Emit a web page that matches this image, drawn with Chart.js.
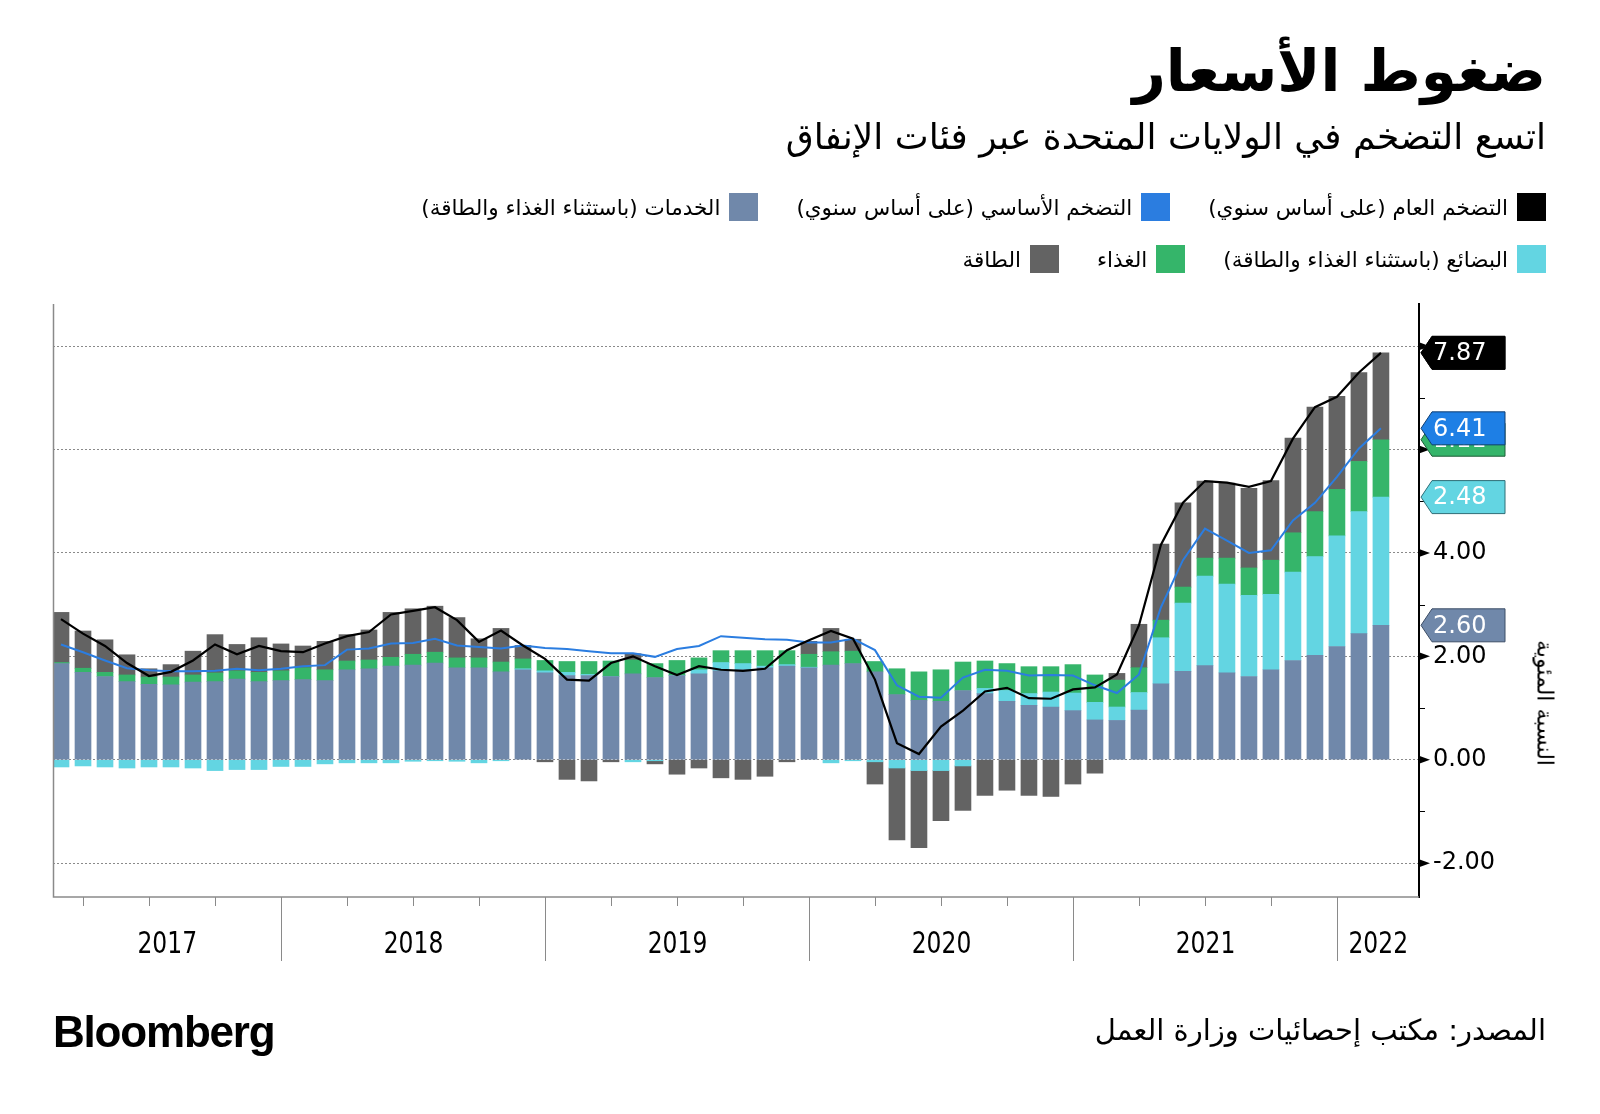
<!DOCTYPE html>
<html lang="ar">
<head>
<meta charset="utf-8">
<script src="https://cdn.jsdelivr.net/npm/chart.js@4.4.1/dist/chart.umd.min.js"></script>
<style>
  html, body { margin: 0; padding: 0; background: #fff; }
  body { width: 1600px; height: 1114px; position: relative; overflow: hidden; font-family: "DejaVu Sans", sans-serif; color: #000; }
  #chart { position: absolute; left: 0; top: 0; }
  .rt { position: absolute; right: 54px; direction: rtl; white-space: nowrap; line-height: 1; }
  .title { top: 42px; font-size: 58px; font-weight: bold; }
  .subtitle { top: 119px; font-size: 36px; }
  .legend { position: absolute; right: 54px; display: flex; direction: rtl; gap: 38px; }
  .item { display: flex; align-items: center; gap: 9px; font-size: 21.5px; white-space: nowrap; }
  .sw { display: inline-block; width: 29px; height: 28px; }
  .ytitle { position: absolute; left: 1545px; top: 703px; transform: translate(-50%, -50%) rotate(90deg); font-size: 22px; direction: rtl; white-space: nowrap; }
  .logo { position: absolute; left: 53px; top: 1010px; font-family: "Liberation Sans", Arial, sans-serif; font-weight: bold; font-size: 44px; letter-spacing: -1.2px; line-height: 1; }
  .source { top: 1016px; font-size: 29px; }
</style>
</head>
<body>
<canvas id="chart" width="1600" height="1114"></canvas>

<div class="rt title">ضغوط الأسعار</div>
<div class="rt subtitle">اتسع التضخم في الولايات المتحدة عبر فئات الإنفاق</div>

<div class="legend" style="top:193px">
  <div class="item"><span class="sw" style="background:#000000"></span><span>التضخم العام (على أساس سنوي)</span></div>
  <div class="item"><span class="sw" style="background:#2b7de0"></span><span>التضخم الأساسي (على أساس سنوي)</span></div>
  <div class="item"><span class="sw" style="background:#7088aa"></span><span>الخدمات (باستثناء الغذاء والطاقة)</span></div>
</div>
<div class="legend" style="top:245px">
  <div class="item"><span class="sw" style="background:#63d5e2"></span><span>البضائع (باستثناء الغذاء والطاقة)</span></div>
  <div class="item"><span class="sw" style="background:#35b56a"></span><span>الغذاء</span></div>
  <div class="item"><span class="sw" style="background:#636363"></span><span>الطاقة</span></div>
</div>

<div class="ytitle">النسبة المئوية</div>

<div class="logo">Bloomberg</div>
<div class="rt source">المصدر: مكتب إحصائيات وزارة العمل</div>

<script>
// months, plotted at month end (Feb 2017 .. Feb 2022)
var months = [
  '2017-02','2017-03','2017-04','2017-05','2017-06','2017-07','2017-08','2017-09','2017-10','2017-11','2017-12',
  '2018-01','2018-02','2018-03','2018-04','2018-05','2018-06','2018-07','2018-08','2018-09','2018-10','2018-11','2018-12',
  '2019-01','2019-02','2019-03','2019-04','2019-05','2019-06','2019-07','2019-08','2019-09','2019-10','2019-11','2019-12',
  '2020-01','2020-02','2020-03','2020-04','2020-05','2020-06','2020-07','2020-08','2020-09','2020-10','2020-11','2020-12',
  '2021-01','2021-02','2021-03','2021-04','2021-05','2021-06','2021-07','2021-08','2021-09','2021-10','2021-11','2021-12',
  '2022-01','2022-02'
];
var years = ['2017', '2018', '2019', '2020', '2021', '2022'];

// contributions to headline CPI, percentage points
var services = [1.86,1.69,1.61,1.51,1.46,1.45,1.50,1.51,1.56,1.51,1.53,
  1.55,1.53,1.74,1.76,1.81,1.83,1.87,1.78,1.78,1.70,1.74,1.68,
  1.63,1.63,1.61,1.66,1.59,1.63,1.66,1.72,1.74,1.78,1.81,1.78,
  1.83,1.86,1.70,1.26,1.15,1.13,1.34,1.28,1.13,1.05,1.02,0.95,
  0.77,0.76,0.96,1.47,1.71,1.82,1.68,1.61,1.74,1.92,2.02,2.19,
  2.44,2.60];
var goods = [-0.14,-0.12,-0.14,-0.16,-0.14,-0.14,-0.16,-0.21,-0.19,-0.19,-0.13,
  -0.13,-0.08,-0.06,-0.06,-0.06,-0.03,-0.02,-0.03,-0.06,-0.02,0.02,0.04,
  0.06,0.02,0.00,-0.04,-0.02,0.00,0.08,0.16,0.12,0.03,0.03,0.01,
  -0.06,-0.02,-0.04,-0.16,-0.21,-0.21,-0.12,0.10,0.21,0.23,0.29,0.34,
  0.34,0.26,0.34,0.89,1.32,1.73,1.72,1.57,1.46,1.71,1.91,2.14,
  2.36,2.48];
var food = [0.02,0.08,0.08,0.13,0.14,0.15,0.14,0.17,0.16,0.18,0.19,
  0.23,0.21,0.17,0.17,0.17,0.21,0.21,0.19,0.19,0.19,0.19,0.20,
  0.21,0.25,0.30,0.27,0.27,0.29,0.23,0.23,0.25,0.30,0.27,0.25,
  0.26,0.24,0.20,0.50,0.55,0.61,0.55,0.53,0.52,0.52,0.49,0.55,
  0.53,0.52,0.48,0.34,0.31,0.35,0.50,0.53,0.66,0.76,0.87,0.90,
  0.97,1.11];
var energy = [0.97,0.72,0.63,0.39,0.16,0.24,0.46,0.74,0.51,0.67,0.52,
  0.42,0.55,0.51,0.58,0.87,0.88,0.89,0.78,0.37,0.65,0.26,-0.04,
  -0.38,-0.41,-0.04,0.12,-0.06,-0.28,-0.16,-0.35,-0.38,-0.32,-0.04,0.25,
  0.45,0.23,-0.43,-1.39,-1.49,-0.97,-0.86,-0.69,-0.59,-0.69,-0.71,-0.47,
  -0.26,0.13,0.84,1.47,1.63,1.49,1.45,1.54,1.54,1.83,2.02,1.80,
  1.72,1.68];
// year-over-year inflation, %
var headline = [2.72,2.44,2.20,1.87,1.62,1.70,1.92,2.23,2.04,2.20,2.10,
  2.08,2.25,2.39,2.47,2.81,2.88,2.95,2.70,2.28,2.50,2.21,1.95,
  1.55,1.53,1.87,2.00,1.81,1.64,1.81,1.74,1.72,1.76,2.12,2.31,
  2.49,2.34,1.55,0.32,0.11,0.64,0.95,1.32,1.39,1.19,1.18,1.36,
  1.40,1.65,2.60,4.16,4.97,5.39,5.36,5.28,5.39,6.21,6.82,7.02,
  7.49,7.87];
var core = [2.23,2.08,1.92,1.77,1.73,1.71,1.71,1.72,1.76,1.73,1.76,
  1.81,1.83,2.13,2.15,2.25,2.26,2.34,2.21,2.18,2.15,2.21,2.16,
  2.14,2.10,2.06,2.06,1.99,2.14,2.20,2.39,2.36,2.33,2.32,2.27,
  2.27,2.34,2.12,1.44,1.22,1.20,1.59,1.74,1.72,1.63,1.64,1.63,
  1.44,1.29,1.65,2.95,3.86,4.47,4.24,4.00,4.05,4.63,4.97,5.47,
  6.02,6.41];

function xy(arr) {
  return arr.map(function (v, i) { return { x: i, y: v }; });
}

// label boxes at the right edge: [fill, border]
var boxStyle = {
  0: ['#7088aa', '#3d4e66'],
  1: ['#63d5e2', '#2f6e77'],
  2: ['#35b56a', '#1e5e38'],
  3: ['#636363', '#333333'],
  4: ['#000000', '#000000'],
  5: ['#1e7fe5', '#0f3f73']
};

var decor = {
  id: 'decor',
  afterDraw: function (chart) {
    var ctx = chart.ctx, a = chart.chartArea, x = chart.scales.x, y = chart.scales.y;
    ctx.save();

    // left and bottom frame
    ctx.strokeStyle = '#8a8a8a';
    ctx.lineWidth = 1.5;
    ctx.beginPath();
    ctx.moveTo(a.left + 0.5, a.top);
    ctx.lineTo(a.left + 0.5, a.bottom);
    ctx.lineTo(a.right, a.bottom);
    ctx.stroke();

    // quarter ticks, year separators
    var bounds = [a.left];
    ctx.lineWidth = 1;
    months.forEach(function (m, i) {
      var mo = +m.slice(5);
      if (mo % 3 !== 0) return;
      var px = Math.round(x.getPixelForValue(i)) + 0.5;
      if (px > a.right) return;
      ctx.beginPath();
      ctx.moveTo(px, a.bottom);
      ctx.lineTo(px, a.bottom + (mo === 12 ? 64 : 9));
      ctx.stroke();
      if (mo === 12) bounds.push(px);
    });
    bounds.push(a.right);

    // year labels, narrow
    ctx.fillStyle = '#000';
    ctx.font = '31px "DejaVu Sans Condensed", "DejaVu Sans", sans-serif';
    ctx.textAlign = 'center';
    ctx.textBaseline = 'middle';
    years.forEach(function (yr, k) {
      ctx.save();
      ctx.translate((bounds[k] + bounds[k + 1]) / 2, a.bottom + 48);
      ctx.scale(0.84, 1);
      ctx.fillText(yr, 0, 0);
      ctx.restore();
    });

    // right axis markers
    ctx.fillStyle = '#000';
    ctx.strokeStyle = '#000';
    y.ticks.forEach(function (t) {
      var py = y.getPixelForValue(t.value);
      if (t.value % 2 === 0) {
        ctx.beginPath();
        ctx.moveTo(a.right, py - 4);
        ctx.lineTo(a.right + 11, py);
        ctx.lineTo(a.right, py + 4);
        ctx.closePath();
        ctx.fill();
      } else {
        ctx.beginPath();
        ctx.moveTo(a.right, Math.round(py) + 0.5);
        ctx.lineTo(a.right + 6, Math.round(py) + 0.5);
        ctx.stroke();
      }
    });

    // last-value boxes
    ctx.font = '24px "DejaVu Sans", sans-serif';
    ctx.textAlign = 'left';
    [3, 0, 1, 2, 5, 4].forEach(function (di) {
      var meta = chart.getDatasetMeta(di);
      var last = meta.data.length - 1;
      var el = meta.data[last];
      var val = chart.data.datasets[di].data[last].y;
      var tip = a.right + 2, right = a.right + 86, h = 33, cy = el.y;
      ctx.beginPath();
      ctx.moveTo(tip, cy);
      ctx.lineTo(tip + 11, cy - h / 2);
      ctx.lineTo(right, cy - h / 2);
      ctx.lineTo(right, cy + h / 2);
      ctx.lineTo(tip + 11, cy + h / 2);
      ctx.closePath();
      ctx.fillStyle = boxStyle[di][0];
      ctx.fill();
      ctx.lineWidth = 1;
      ctx.strokeStyle = boxStyle[di][1];
      ctx.stroke();
      ctx.fillStyle = '#fff';
      ctx.fillText(val.toFixed(2), tip + 12, cy + 1);
    });

    ctx.restore();
  }
};

new Chart(document.getElementById('chart'), {
  type: 'bar',
  data: {
    datasets: [
      { label: 'services', data: xy(services), backgroundColor: '#7088aa', stack: 'cpi', order: 2 },
      { label: 'goods', data: xy(goods), backgroundColor: '#63d5e2', stack: 'cpi', order: 2 },
      { label: 'food', data: xy(food), backgroundColor: '#35b56a', stack: 'cpi', order: 2 },
      { label: 'energy', data: xy(energy), backgroundColor: '#636363', stack: 'cpi', order: 2 },
      { type: 'line', label: 'headline', data: xy(headline), borderColor: '#000', borderWidth: 2.2,
        pointRadius: 0, tension: 0, fill: false, stack: 'headline', order: 0 },
      { type: 'line', label: 'core', data: xy(core), borderColor: '#2b7de0', borderWidth: 2,
        pointRadius: 0, tension: 0, fill: false, stack: 'core', order: 1 }
    ]
  },
  options: {
    responsive: false,
    animation: false,
    events: [],
    barThickness: 16,
    layout: { padding: { left: 53, top: 304, right: 41, bottom: 217 } },
    plugins: { legend: { display: false }, tooltip: { enabled: false } },
    scales: {
      x: {
        type: 'linear',
        display: false,
        offset: false,
        stacked: true,
        min: -0.364,
        max: 61.73
      },
      y: {
        position: 'right',
        stacked: true,
        min: -2.655,
        max: 8.815,
        afterFit: function (s) { s.width = 140; },
        ticks: {
          stepSize: 1,
          includeBounds: false,
          padding: 14,
          color: '#000',
          font: { family: '"DejaVu Sans", sans-serif', size: 24 },
          // the 8.00 label sits under the headline box in the original
          callback: function (v) { return v % 2 === 0 && v < 8 ? v.toFixed(2) : ''; }
        },
        grid: {
          drawTicks: false,
          lineWidth: 1,
          color: function (c) { return c.tick && c.tick.value % 2 === 0 ? '#8a8a8a' : 'rgba(0,0,0,0)'; }
        },
        border: { display: true, color: '#000', width: 2, dash: [2, 2] }
      }
    }
  },
  plugins: [decor]
});
</script>
</body>
</html>
